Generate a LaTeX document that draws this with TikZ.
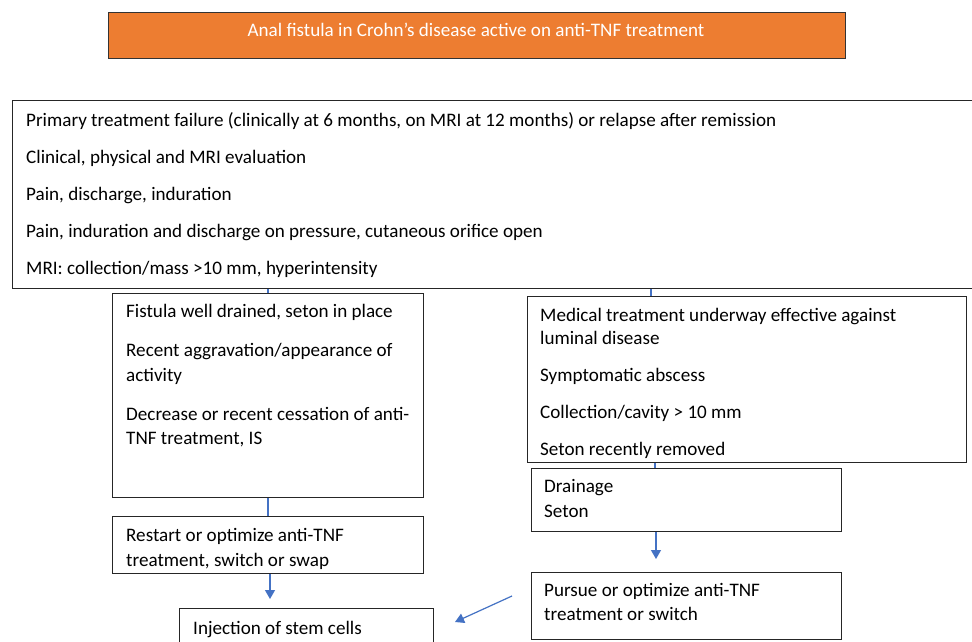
\documentclass[tikz,border=0pt]{standalone}
\usepackage{fontspec}
\setmainfont{Carlito}
\usetikzlibrary{arrows.meta}
\definecolor{wordorange}{RGB}{237,125,49}
\definecolor{wordblue}{RGB}{68,114,196}
\tikzset{
  box/.style={draw=black!85, line width=1.1pt, rectangle, inner sep=0pt, anchor=north west},
  titlebox/.style={box, fill=wordorange, draw=black!80},
  txt/.style={anchor=base west, inner sep=0pt, font=\fontsize{19.1}{23}\selectfont, text=black},
  conn/.style={draw=wordblue, line width=1.2pt},
  arr/.style={conn, -{Triangle[width=10pt,length=9pt]}}
}
\begin{document}
\begin{tikzpicture}[x=1pt,y=-1pt]
\clip (0,0) rectangle (972,641);
\fill[white] (0,0) rectangle (972,641);
% boxes
\node[titlebox, minimum width=737pt, minimum height=46pt] (title) at (108,12) {};
\node[box, minimum width=970pt, minimum height=188pt] (big) at (12,100) {};
\node[box, minimum width=311pt, minimum height=204pt] (left1) at (112,293) {};
\node[box, minimum width=311pt, minimum height=57pt] (left2) at (112,516) {};
\node[box, minimum width=254pt, minimum height=60pt] (stem) at (179,608) {};
\node[box, minimum width=439pt, minimum height=166pt] (right1) at (527,296) {};
\node[box, minimum width=310pt, minimum height=63pt] (right2) at (531,468) {};
\node[box, minimum width=310pt, minimum height=67pt] (right3) at (531,572) {};
% texts
\node[txt, anchor=base, text=white] (t0) at (476,36) {Anal fistula in Crohn’s disease active on anti-TNF treatment};
\node[txt] (t1) at (26,126) {Primary treatment failure (clinically at 6 months, on MRI at 12 months) or relapse after remission};
\node[txt] (t2) at (26,163) {Clinical, physical and MRI evaluation};
\node[txt] (t3) at (26,200) {Pain, discharge, induration};
\node[txt] (t4) at (26,237) {Pain, induration and discharge on pressure, cutaneous orifice open};
\node[txt] (t5) at (26,274) {MRI: collection/mass >10 mm, hyperintensity};
\node[txt] (l1) at (126,317) {Fistula well drained, seton in place};
\node[txt] (l2) at (126,356) {Recent aggravation/appearance of};
\node[txt] (l3) at (126,381) {activity};
\node[txt] (l4) at (126,420) {Decrease or recent cessation of anti-};
\node[txt] (l5) at (126,444) {TNF treatment, IS};
\node[txt] (m1) at (126,541) {Restart or optimize anti-TNF};
\node[txt] (m2) at (126,566) {treatment, switch or swap};
\node[txt] (s1) at (193,634) {Injection of stem cells};
\node[txt] (r1) at (540,321) {Medical treatment underway effective against};
\node[txt] (r2) at (540,344) {luminal disease};
\node[txt] (r3) at (540,381) {Symptomatic abscess};
\node[txt] (r4) at (540,418) {Collection/cavity > 10 mm};
\node[txt] (r5) at (540,455) {Seton recently removed};
\node[txt] (d1) at (544,492) {Drainage};
\node[txt] (d2) at (544,517) {Seton};
\node[txt] (p1) at (544,596) {Pursue or optimize anti-TNF};
\node[txt] (p2) at (544,620) {treatment or switch};
% connectors
\coordinate (cr) at (651,0);
\coordinate (cd) at (655,0);
\coordinate (ca) at (656,0);
\coordinate (cl) at (270,0);
\draw[conn] (big.south -| left1.north) -- (left1.north);
\draw[conn] (big.south -| cr) -- (right1.north -| cr);
\draw[conn] (left1.south) -- (left2.north);
\draw[conn] (right1.south -| cd) -- (right2.north -| cd);
\draw[arr] (left2.south -| cl) -- ([yshift=9pt]stem.north -| cl);
\draw[arr] (right2.south -| ca) -- ([yshift=13pt]right3.north -| ca);
\coordinate (sa) at (512,596);
\coordinate (sb) at (455,622);
\draw[arr] (sa) -- (sb);
\end{tikzpicture}
\end{document}
